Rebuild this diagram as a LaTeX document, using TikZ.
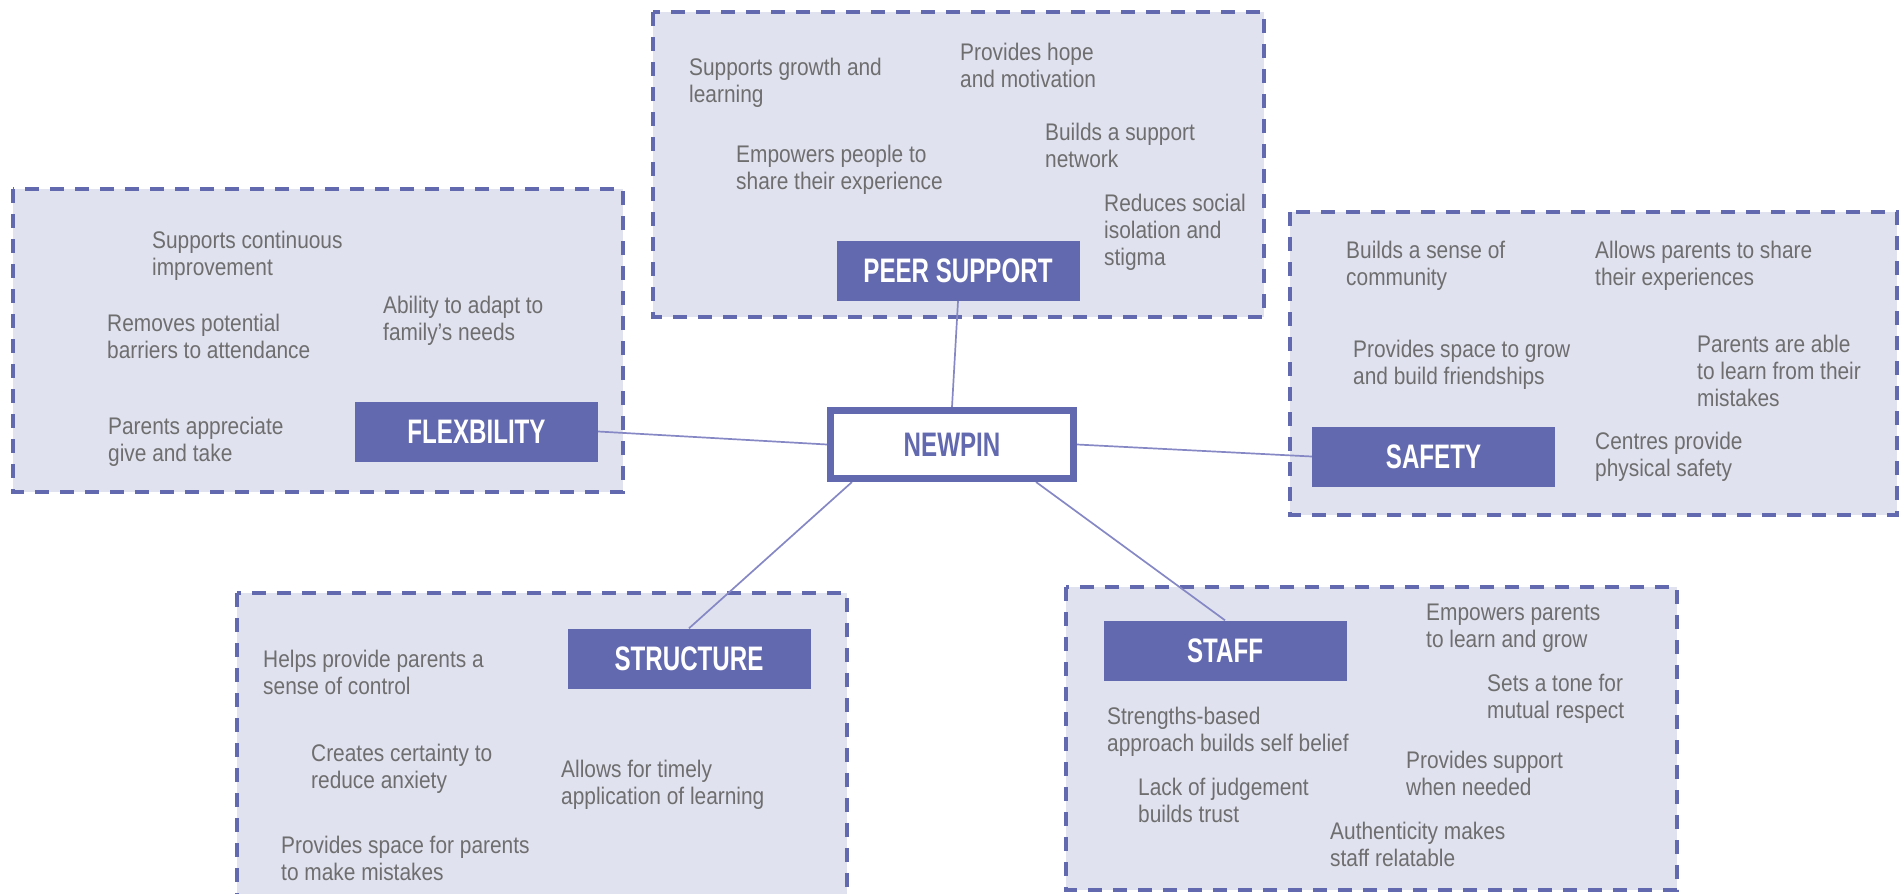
\documentclass[tikz,border=0pt]{standalone}
\usepackage{fontspec}
\setmainfont{Liberation Sans}[FakeStretch=0.87]
\newfontfamily\headfont{Liberation Sans}[FakeStretch=0.71]
\usetikzlibrary{calc}
\definecolor{boxfill}{HTML}{E0E2EF}
\definecolor{accent}{HTML}{6369AF}
\definecolor{textgray}{HTML}{6E6E6E}
\definecolor{linkcol}{HTML}{8588C4}
\pgfdeclarelayer{zones}
\pgfdeclarelayer{links}
\pgfsetlayers{zones,links,main}
\begin{document}
\begin{tikzpicture}[x=1pt,y=-1pt,
  zone/.style={fill=boxfill, draw=accent, line width=3.5pt, dash pattern=on 14pt off 11pt},
  headbox/.style={fill=accent, text=white, minimum width=243pt, minimum height=60pt, inner sep=0pt,
    font=\headfont\bfseries\fontsize{34}{36}\selectfont},
  hub/.style={draw=accent, fill=white, line width=7pt, minimum width=243pt, minimum height=68pt,
    inner sep=0pt, text=accent, font=\headfont\bfseries\fontsize{34}{36}\selectfont},
  txt/.style={anchor=north west, inner sep=0pt, align=left, text=textgray,
    font=\fontsize{24}{27}\selectfont},
  link/.style={draw=linkcol, line width=1.7pt}]
\clip (0,0) rectangle (1901,894);

\begin{pgfonlayer}{zones}
  \draw[zone] (653,12) rectangle (1264,317);
  \draw[zone] (13,189) rectangle (623,492);
  \draw[zone] (1290,212) rectangle (1897,515);
  \draw[zone] (237,593) rectangle (847,910);
  \draw[zone] (1066,587) rectangle (1677,890);
\end{pgfonlayer}

% hub and category boxes
\node[hub] (newpin) at (952,444.5) {NEWPIN};
\node[headbox] (peer) at (958,271) {PEER SUPPORT};
\node[headbox] (flex) at (476.5,431.5) {FLEXBILITY};
\node[headbox] (safety) at (1433.5,456.5) {SAFETY};
\node[headbox] (struct) at (689,658.5) {STRUCTURE};
\node[headbox] (staff) at (1225,650.5) {STAFF};

\begin{pgfonlayer}{links}
  \draw[link] (peer.south) -- (newpin.north);
  \draw[link] (flex.east) -- (newpin.west);
  \draw[link] (newpin.east) -- (safety.west);
  \draw[link] ($(newpin.south west)+(25,0)$) -- (struct.north);
  \draw[link] ($(newpin.south east)+(-41,0)$) -- (staff.north);
\end{pgfonlayer}

% peer support
\node[txt] (p1) at (689,57.5) {Supports growth and\\learning};
\node[txt] (p2) at (960,42.5) {Provides hope\\and motivation};
\node[txt] (p3) at (1045,123) {Builds a support\\network};
\node[txt] (p4) at (736,145) {Empowers people to\\share their experience};
\node[txt] (p5) at (1104,193.5) {Reduces social\\isolation and\\stigma};

% flexibility
\node[txt] (f1) at (152,231) {Supports continuous\\improvement};
\node[txt] (f2) at (107,313.5) {Removes potential\\barriers to attendance};
\node[txt] (f3) at (383,295.5) {Ability to adapt to\\family’s needs};
\node[txt] (f4) at (108,416.5) {Parents appreciate\\give and take};

% safety
\node[txt] (s1) at (1346,240.5) {Builds a sense of\\community};
\node[txt] (s2) at (1595,240.5) {Allows parents to share\\their experiences};
\node[txt] (s3) at (1353,339.5) {Provides space to grow\\and build friendships};
\node[txt] (s4) at (1697,334.5) {Parents are able\\to learn from their\\mistakes};
\node[txt] (s5) at (1595,431.5) {Centres provide\\physical safety};

% structure
\node[txt] (t1) at (263,649.5) {Helps provide parents a\\sense of control};
\node[txt] (t2) at (311,743.5) {Creates certainty to\\reduce anxiety};
\node[txt] (t3) at (561,759.5) {Allows for timely\\application of learning};
\node[txt] (t4) at (281,836) {Provides space for parents\\to make mistakes};

% staff
\node[txt] (a1) at (1426,603.5) {Empowers parents\\to learn and grow};
\node[txt] (a2) at (1487,673.5) {Sets a tone for\\mutual respect};
\node[txt] (a3) at (1107,707) {Strengths-based\\approach builds self belief};
\node[txt] (a4) at (1406,750.5) {Provides support\\when needed};
\node[txt] (a5) at (1138,777.5) {Lack of judgement\\builds trust};
\node[txt] (a6) at (1330,821.5) {Authenticity makes\\staff relatable};
\end{tikzpicture}
\end{document}
